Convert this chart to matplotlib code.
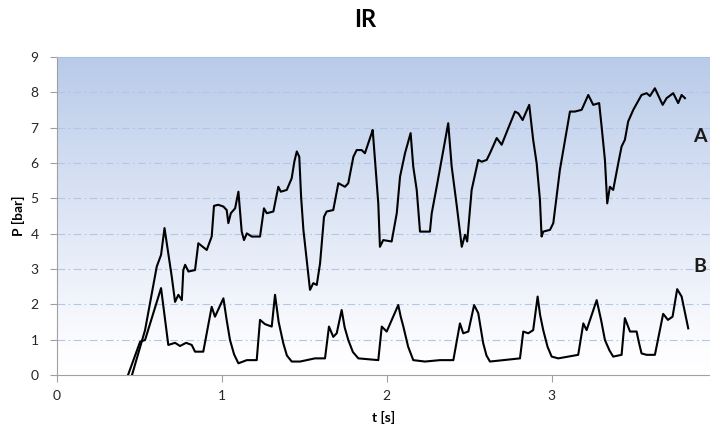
import numpy as np
import matplotlib

matplotlib.use("Agg")
import matplotlib.pyplot as plt
from matplotlib.colors import LinearSegmentedColormap

plt.rcParams["font.family"] = ["Lato", "DejaVu Sans"]

# ── Data ──
t_a = [0.456, 0.535, 0.606, 0.632, 0.653, 0.697, 0.717, 0.737, 0.758, 0.767,
       0.778, 0.798, 0.838, 0.858, 0.909, 0.939, 0.953, 0.979, 1.010, 1.030,
       1.040, 1.055, 1.081, 1.101, 1.121, 1.135, 1.152, 1.182, 1.232, 1.256,
       1.273, 1.313, 1.343, 1.358, 1.394, 1.424, 1.440, 1.455, 1.470, 1.481,
       1.495, 1.515, 1.535, 1.555, 1.576, 1.596, 1.620, 1.636, 1.676, 1.707,
       1.747, 1.767, 1.798, 1.818, 1.848, 1.868, 1.909, 1.915, 1.929, 1.949,
       1.959, 1.979, 2.030, 2.061, 2.081, 2.111, 2.145, 2.161, 2.182, 2.202,
       2.232, 2.262, 2.273, 2.303, 2.373, 2.394, 2.424, 2.455, 2.475, 2.488,
       2.515, 2.555, 2.576, 2.606, 2.626, 2.667, 2.697, 2.737, 2.778, 2.798,
       2.824, 2.864, 2.888, 2.909, 2.929, 2.939, 2.949, 2.990, 3.010, 3.050,
       3.111, 3.141, 3.182, 3.222, 3.252, 3.288, 3.303, 3.323, 3.337, 3.353,
       3.373, 3.404, 3.424, 3.444, 3.464, 3.495, 3.545, 3.576, 3.596, 3.626,
       3.673, 3.697, 3.737, 3.767, 3.788, 3.808]
p_a = [0.00, 1.27, 3.07, 3.40, 4.16, 2.78, 2.07, 2.27, 2.12, 2.97,
       3.12, 2.93, 2.97, 3.73, 3.54, 3.92, 4.79, 4.82, 4.77, 4.67,
       4.30, 4.58, 4.72, 5.19, 4.06, 3.82, 4.01, 3.92, 3.92, 4.72,
       4.58, 4.63, 5.33, 5.19, 5.24, 5.57, 6.04, 6.33, 6.18, 5.05,
       4.11, 3.26, 2.41, 2.60, 2.55, 3.16, 4.48, 4.63, 4.67, 5.43,
       5.33, 5.43, 6.18, 6.37, 6.37, 6.28, 6.85, 6.94, 6.09, 4.86,
       3.63, 3.82, 3.78, 4.58, 5.62, 6.28, 6.85, 5.90, 5.24, 4.06,
       4.06, 4.06, 4.58, 5.33, 7.13, 5.90, 4.82, 3.63, 3.97, 3.78,
       5.24, 6.09, 6.04, 6.09, 6.28, 6.71, 6.52, 6.99, 7.46, 7.41,
       7.22, 7.65, 6.66, 6.00, 4.96, 3.92, 4.06, 4.11, 4.30, 5.81,
       7.46, 7.46, 7.51, 7.93, 7.65, 7.70, 7.03, 6.09, 4.86, 5.33,
       5.24, 6.00, 6.47, 6.66, 7.18, 7.51, 7.93, 7.98, 7.90, 8.12,
       7.65, 7.84, 7.98, 7.70, 7.93, 7.84]

t_b = [0.432, 0.505, 0.535, 0.632, 0.676, 0.717, 0.747, 0.784, 0.818, 0.838,
       0.888, 0.939, 0.959, 1.010, 1.030, 1.050, 1.075, 1.101, 1.152, 1.212,
       1.232, 1.262, 1.303, 1.323, 1.345, 1.373, 1.395, 1.424, 1.475, 1.565,
       1.626, 1.650, 1.676, 1.697, 1.727, 1.745, 1.767, 1.795, 1.828, 1.949,
       1.970, 2.000, 2.070, 2.085, 2.101, 2.130, 2.161, 2.232, 2.323, 2.404,
       2.444, 2.464, 2.495, 2.530, 2.555, 2.585, 2.605, 2.626, 2.707, 2.808,
       2.828, 2.858, 2.888, 2.915, 2.930, 2.949, 2.975, 3.000, 3.040, 3.161,
       3.192, 3.212, 3.273, 3.300, 3.323, 3.350, 3.373, 3.424, 3.444, 3.475,
       3.515, 3.530, 3.545, 3.576, 3.626, 3.676, 3.705, 3.733, 3.761, 3.788,
       3.828]
p_b = [0.00, 0.94, 0.99, 2.46, 0.85, 0.91, 0.82, 0.91, 0.85, 0.66,
       0.66, 1.93, 1.65, 2.17, 1.55, 0.99, 0.58, 0.33, 0.42, 0.42,
       1.56, 1.44, 1.37, 2.27, 1.50, 0.90, 0.55, 0.38, 0.38, 0.47,
       0.47, 1.37, 1.08, 1.18, 1.84, 1.35, 0.99, 0.65, 0.47, 0.42,
       1.37, 1.23, 1.98, 1.65, 1.37, 0.80, 0.42, 0.38, 0.42, 0.42,
       1.46, 1.18, 1.23, 1.98, 1.75, 0.90, 0.55, 0.38, 0.42, 0.47,
       1.23, 1.18, 1.27, 2.22, 1.70, 1.27, 0.80, 0.52, 0.47, 0.57,
       1.46, 1.27, 2.12, 1.55, 0.99, 0.70, 0.52, 0.57, 1.61, 1.23,
       1.23, 0.90, 0.61, 0.57, 0.57, 1.73, 1.56, 1.65, 2.43, 2.22,
       1.32]

series_labels = ["A", "B"]
label_pos = [(3.90, 6.76), (3.90, 3.06)]

fig = plt.figure(figsize=(7.1, 4.3), dpi=100)
ax = fig.add_axes([0.080, 0.128, 0.920, 0.739])

x_max, y_max = 3.96, 9

# background gradient: light blue at the top fading to white
grad = LinearSegmentedColormap.from_list(
    "bg", [(0, "#ffffff"), (0.08, "#fdfdff"), (1, "#b9cbe9")])
ax.imshow(np.linspace(0, 1, 256)[:, None], extent=[0, x_max, 0, y_max],
          origin="lower", aspect="auto", cmap=grad, zorder=0)

for y in range(1, 9):
    ax.axhline(y, color="#b2c6ea", linewidth=0.8,
               linestyle=(0, (7, 3, 1.5, 3)), zorder=1)

ax.plot(t_a, p_a, color="black", linewidth=1.5, zorder=3)
ax.plot(t_b, p_b, color="black", linewidth=1.5, zorder=3)

for lab, (lx, ly) in zip(series_labels, label_pos):
    ax.text(lx, ly, lab, fontsize=14, fontweight="bold",
            ha="center", va="center", color="#1a1a1a")

ax.set_xlim(0, x_max)
ax.set_ylim(0, y_max)
ax.set_xticks([0, 1, 2, 3])
ax.set_yticks(range(0, 10))
ax.tick_params(axis="both", colors="#a0a0a0", labelcolor="#262626",
               labelsize=10, length=5, width=0.8, direction="out")
ax.tick_params(axis="x", pad=6)
ax.tick_params(axis="y", pad=8)

ax.spines["right"].set_visible(False)
ax.spines["top"].set_color("#a8bfe6")
ax.spines["left"].set_color("#a0a0a0")
ax.spines["bottom"].set_color("#a0a0a0")

ax.set_xlabel("t [s]", fontsize=10, fontweight="bold", labelpad=6)
ax.set_ylabel("P [bar]", fontsize=10, fontweight="bold", labelpad=4)

fig.text(0.514, 0.955, "IR", fontsize=17, fontweight="bold",
         ha="center", va="center")

fig.savefig("out.png", dpi=100)
